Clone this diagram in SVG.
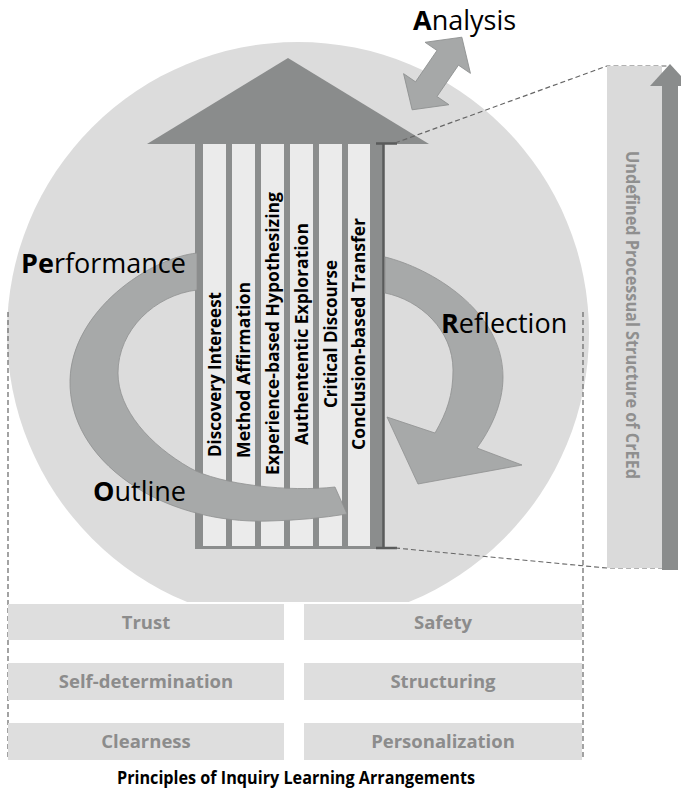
<svg xmlns="http://www.w3.org/2000/svg" width="681" height="791" viewBox="0 0 681 791">
<style>
.lbl{font-family:"Open Sans","Liberation Sans",sans-serif;font-size:27px;fill:#000}
.col{font-family:"Open Sans","Liberation Sans",sans-serif;font-size:17.5px;font-weight:bold;fill:#000}
.box{fill:#dedede}
.bt{font-family:"Open Sans","Liberation Sans",sans-serif;font-size:18.5px;font-weight:bold;fill:#8c8c8c}
.band{fill:#a7a9a9;stroke:#8f9191;stroke-width:0.8}
.dash{fill:none;stroke:#666;stroke-width:1.2;stroke-dasharray:5 3}
.bar{fill:#8b8d8d}
.lt{fill:#ebebeb}
</style>
<rect width="681" height="791" fill="#fff"/>
<circle id="cycle" cx="298" cy="333" r="291" fill="#dcdcdc"/>
<rect x="0" y="602" width="681" height="189" fill="#fff"/>

<g id="roof"><polygon points="147,144 288,58 429,144" fill="#8a8c8c"/></g>

<g id="columns">
<rect class="bar" x="195" y="144" width="188" height="405"/>
<rect class="lt" x="203" y="144" width="23" height="402"/>
<rect class="lt" x="232" y="144" width="23" height="402"/>
<rect class="lt" x="261" y="144" width="23" height="402"/>
<rect class="lt" x="290" y="144" width="23" height="402"/>
<rect class="lt" x="319" y="144" width="23" height="402"/>
<rect class="lt" x="348" y="144" width="22" height="402"/>
<path d="M376,143.5 H397 M383.5,143.5 V548 M376,548 H397" fill="none" stroke="#5a5b5b" stroke-width="2.5"/>
</g>

<g id="left-arc"><path class="band" d="M197,253 C150,258 72,310 70,380 C68,460 160,525 270,521 Q310,520 347,514 L335,487 C290,492 220,485 190,468 C150,445 118,410 118,373 C118,330 155,295 197,290 Z"/></g>
<g id="right-arc"><path class="band" d="M385,257 C430,268 503,310 503,377 C503,405 490,430 477,448 L522,465 L418,484 L387,417 L435,433 C447,412 453,395 453,370 C453,330 420,300 385,293 Z"/></g>

<g id="column-labels">
<text class="col" transform="translate(220.5,374.5) rotate(-90)" text-anchor="middle" textLength="165" lengthAdjust="spacingAndGlyphs">Discovery Intereest</text>
<text class="col" transform="translate(249.5,370) rotate(-90)" text-anchor="middle" textLength="176" lengthAdjust="spacingAndGlyphs">Method Affirmation</text>
<text class="col" transform="translate(278.5,333.5) rotate(-90)" text-anchor="middle" textLength="283" lengthAdjust="spacingAndGlyphs">Experience-based Hypothesizing</text>
<text class="col" transform="translate(307.5,334) rotate(-90)" text-anchor="middle" textLength="222" lengthAdjust="spacingAndGlyphs">Authententic Exploration</text>
<text class="col" transform="translate(336.5,334) rotate(-90)" text-anchor="middle" textLength="148" lengthAdjust="spacingAndGlyphs">Critical Discourse</text>
<text class="col" transform="translate(365,334) rotate(-90)" text-anchor="middle" textLength="232" lengthAdjust="spacingAndGlyphs">Conclusion-based Transfer</text>
</g>

<g id="analysis-arrow"><polygon transform="translate(437,73.5) rotate(-55.6)" points="-44,0 -19,-27.5 -19,-13 19,-13 19,-27.5 44,0 19,27.5 19,13 -19,13 -19,27.5" fill="#a6a8a8" stroke="#8e9090" stroke-width="0.8"/></g>

<g id="labels">
<text class="lbl" x="413" y="30"><tspan font-weight="bold">A</tspan>nalysis</text>
<text class="lbl" x="21" y="273"><tspan font-weight="bold">Pe</tspan>rformance</text>
<text class="lbl" x="441" y="333"><tspan font-weight="bold">R</tspan>eflection</text>
<text class="lbl" x="93" y="501"><tspan font-weight="bold">O</tspan>utline</text>
</g>

<g id="connectors">
<path class="dash" d="M395,143 L607,66 H668"/>
<path class="dash" d="M395,548 L607,568 H662"/>
<path class="dash" d="M8,312 V760"/>
<path class="dash" d="M583,312 V760"/>
</g>

<g id="process-panel">
<rect x="607" y="66" width="55" height="502" fill="#dadada"/>
<rect x="662" y="84" width="16" height="486" fill="#8a8c8c"/>
<polygon points="650,86 670,64 690,86" fill="#8a8c8c"/>
<text transform="translate(626,315) rotate(90)" text-anchor="middle" font-family="Open Sans, Liberation Sans, sans-serif" font-size="17" font-weight="bold" fill="#8f8f8f" textLength="328" lengthAdjust="spacingAndGlyphs">Undefined Processual Structure of CrEEd</text>
</g>

<g id="principles">
<rect class="box" x="8" y="604" width="276" height="36"/>
<rect class="box" x="304" y="604" width="278" height="36"/>
<rect class="box" x="8" y="663" width="276" height="37"/>
<rect class="box" x="304" y="663" width="278" height="37"/>
<rect class="box" x="8" y="723" width="276" height="37"/>
<rect class="box" x="304" y="723" width="278" height="37"/>
<text class="bt" x="146" y="629" text-anchor="middle">Trust</text>
<text class="bt" x="443" y="629" text-anchor="middle">Safety</text>
<text class="bt" x="146" y="688" text-anchor="middle">Self-determination</text>
<text class="bt" x="443" y="688" text-anchor="middle">Structuring</text>
<text class="bt" x="146" y="748" text-anchor="middle">Clearness</text>
<text class="bt" x="443" y="748" text-anchor="middle">Personalization</text>
<text x="296" y="784" text-anchor="middle" font-family="Open Sans, Liberation Sans, sans-serif" font-size="17" font-weight="bold" fill="#000" textLength="358" lengthAdjust="spacingAndGlyphs">Principles of Inquiry Learning Arrangements</text>
</g>
</svg>
